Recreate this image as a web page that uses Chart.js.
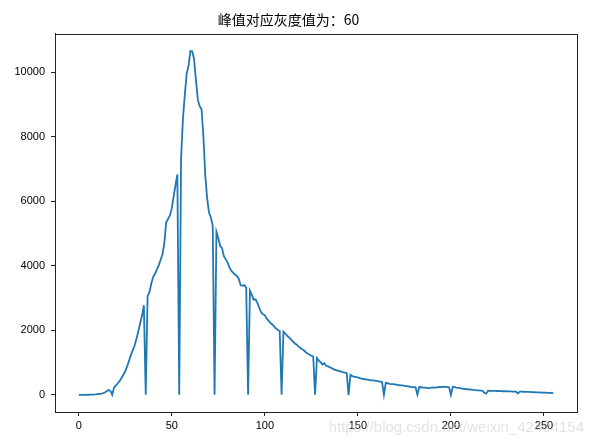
<!DOCTYPE html>
<html>
<head>
<meta charset="utf-8">
<script src="https://cdn.jsdelivr.net/npm/chart.js@4/dist/chart.umd.min.js"></script>
<style>
  html, body { margin: 0; padding: 0; background: #fff; }
  #hist { display: block; }
</style>
</head>
<body>
<canvas id="hist" width="593" height="445"></canvas>
<script>
// pixel counts for each gray level 0..255
const counts = [
  0, 0, 0, 0, 1, 2, 3, 5, 8, 12,
  18, 25, 35, 48, 70, 110, 150, 120, 0, 230,
  290, 360, 430, 520, 620, 730, 880, 1050, 1230, 1380,
  1520, 1730, 1960, 2220, 2450, 2780, 0, 3060, 3180, 3450,
  3650, 3760, 3880, 4020, 4180, 4360, 4700, 5350, 5450, 5560,
  5780, 6150, 6500, 6830, 0, 7350, 8550, 9300, 9950, 10200,
  10660, 10650, 10400, 9750, 9150, 8950, 8850, 8000, 6800, 6100,
  5650, 5500, 5250, 0, 5050, 4850, 4620, 4550, 4300, 4200,
  4100, 3950, 3850, 3780, 3730, 3680, 3600, 3400, 3380, 3400,
  3320, 0, 3230, 3100, 2950, 2960, 2850, 2700, 2560, 2500,
  2470, 2360, 2300, 2230, 2180, 2120, 2060, 2010, 1980, 0,
  1960, 1900, 1830, 1780, 1720, 1660, 1600, 1560, 1500, 1460,
  1410, 1380, 1320, 1280, 1250, 1210, 1190, 0, 1140, 1060,
  1010, 940, 980, 900, 880, 850, 830, 790, 770, 750,
  740, 720, 700, 690, 670, 0, 620, 580, 560, 550,
  540, 520, 500, 490, 480, 470, 460, 450, 450, 440,
  430, 420, 410, 400, 0, 370, 360, 340, 330, 330,
  320, 310, 300, 290, 290, 280, 270, 260, 250, 240,
  240, 230, 0, 240, 235, 225, 220, 215, 210, 215,
  230, 225, 220, 235, 245, 240, 250, 245, 240, 235,
  0, 250, 240, 225, 215, 205, 195, 185, 180, 170,
  165, 160, 150, 145, 140, 135, 130, 125, 60, 40,
  130, 125, 125, 120, 120, 118, 115, 112, 110, 110,
  108, 105, 105, 100, 100, 98, 40, 100, 98, 95,
  92, 90, 88, 85, 82, 80, 78, 75, 72, 70,
  68, 65, 62, 60, 58, 55
];
const xTicks = [0, 50, 100, 150, 200, 250];
const yTicks = [0, 2000, 4000, 6000, 8000, 10000];
const titleText = '峰值对应灰度值为：60';
const watermark = 'https://blog.csdn.net/weixin_42404154';

const tickFont = { family: "'Liberation Sans', Arial, sans-serif", size: 11 };

const framePlugin = {
  id: 'frame',
  beforeDraw(chart) {
    const ctx = chart.ctx;
    ctx.save();
    ctx.fillStyle = '#fff';
    ctx.fillRect(0, 0, chart.width, chart.height);
    ctx.restore();
  },
  afterDraw(chart) {
    const { ctx, chartArea: a } = chart;
    ctx.save();
    ctx.strokeStyle = '#222';
    ctx.lineWidth = 1;
    ctx.strokeRect(Math.round(a.left) + 0.5, Math.round(a.top) + 0.5,
      Math.round(a.right - a.left), Math.round(a.bottom - a.top));
    // blog watermark, light gray over the bottom right
    ctx.fillStyle = 'rgba(200, 200, 200, 0.5)';
    ctx.font = "15px 'Liberation Sans', Arial, sans-serif";
    ctx.textBaseline = 'middle';
    ctx.textAlign = 'right';
    ctx.fillText(watermark, 584, 428);
    ctx.restore();
  }
};

new Chart(document.getElementById('hist'), {
  type: 'line',
  data: {
    datasets: [{
      data: counts.map((v, i) => ({ x: i, y: v })),
      borderColor: '#1f77b4',
      borderWidth: 1.8,
      pointRadius: 0,
      tension: 0,
      fill: false
    }]
  },
  options: {
    responsive: false,
    devicePixelRatio: 1,
    animation: false,
    layout: { padding: { left: 0, right: 16, top: 0, bottom: 0 } },
    plugins: {
      legend: { display: false },
      tooltip: { enabled: false },
      title: {
        display: true,
        text: titleText,
        color: '#000',
        font: { family: "'Noto Sans CJK SC', sans-serif", size: 14, weight: 'normal' },
        padding: { top: 11, bottom: 6 }
      }
    },
    scales: {
      x: {
        type: 'linear',
        min: -12.75,
        max: 267.75,
        afterBuildTicks: s => { s.ticks = xTicks.map(v => ({ value: v })); },
        afterFit: s => { s.height = 33; },
        grid: { drawOnChartArea: false, drawTicks: true, tickLength: 4, color: '#222' },
        border: { display: true, color: '#222' },
        ticks: { color: '#000', font: tickFont, padding: 3, maxRotation: 0, callback: v => String(v) }
      },
      y: {
        min: -533,
        max: 11193,
        afterBuildTicks: s => { s.ticks = yTicks.map(v => ({ value: v })); },
        afterFit: s => { s.width = 55; },
        grid: { drawOnChartArea: false, drawTicks: true, tickLength: 4, color: '#222' },
        border: { display: true, color: '#222' },
        ticks: { color: '#000', font: tickFont, padding: 6, callback: v => String(v) }
      }
    }
  },
  plugins: [framePlugin]
});
</script>
</body>
</html>
